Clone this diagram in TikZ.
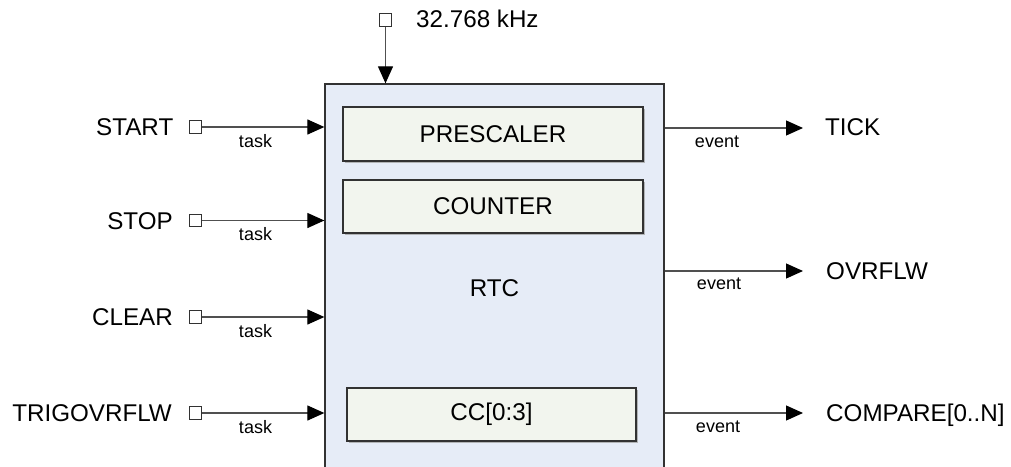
\documentclass[tikz,border=0pt]{standalone}
\usepackage{fontspec}
\setmainfont{Liberation Sans}
\usetikzlibrary{arrows.meta,shadows}
\definecolor{rtcfill}{RGB}{230,236,247}
\definecolor{subfill}{RGB}{242,245,238}
\definecolor{linegray}{RGB}{80,80,80}
\definecolor{boxline}{RGB}{50,50,50}
\tikzset{
  big/.style={font=\fontsize{24.2}{29}\selectfont, inner sep=0pt},
  small/.style={font=\fontsize{18}{22}\selectfont, inner sep=0pt},
  port/.style={draw=boxline, fill=white, line width=0.8pt, minimum size=12.5pt, inner sep=0pt},
  conn/.style={draw=linegray, line width=1.2pt, -{Triangle[length=17pt,width=15pt,color=black]}},
  mainbox/.style={draw=boxline, fill=rtcfill, line width=1.3pt, minimum width=339pt, minimum height=409pt, big},
  subbox/.style={draw=boxline, fill=subfill, line width=1.3pt, big,
    drop shadow={shadow xshift=1.5pt, shadow yshift=-1.5pt, fill=gray!70, opacity=0.8}},
}
\begin{document}
\begin{tikzpicture}[x=1pt, y=-1pt]
\useasboundingbox (0,0) rectangle (1011,466);
\clip (0,0) rectangle (1011,466);
% main block
\node[mainbox] (rtc) at (494.5,288.5) {RTC};
\node[subbox, minimum width=300pt, minimum height=54pt] (pre) at (493,134) {PRESCALER};
\node[subbox, minimum width=300pt, minimum height=53pt] (cnt) at (493,206.5) {COUNTER};
\node[subbox, minimum width=289pt, minimum height=53pt] (cc) at (491.5,414.5) {CC[0:3]};
% clock
\node[port] (clk) at (385.5,20) {};
\node[big, anchor=base west] (clklbl) at (416,27.5) {32.768 kHz};
\draw[conn] (clk.south) -- (clk |- rtc.north);
% tasks
\node[port] (pstart) at (195.5,127) {};
\node[port] (pstop) at (195.5,220.5) {};
\node[port] (pclear) at (195.5,317) {};
\node[port] (ptrig) at (195.5,413) {};
\node[big, anchor=base east] (lstart) at (173.5,135) {START};
\node[big, anchor=base east] (lstop) at (173,229) {STOP};
\node[big, anchor=base east] (lclear) at (173,325.5) {CLEAR};
\node[big, anchor=base east] (ltrig) at (172,421.5) {TRIGOVRFLW};
\foreach \p in {pstart,pstop,pclear,ptrig}{
  \draw[conn] (\p.east) -- (rtc.west |- \p);
}
\node[small, anchor=base] (tstart) at (255.5,147) {task};
\node[small, anchor=base] (tstop) at (255.5,240.5) {task};
\node[small, anchor=base] (tclear) at (255.5,337) {task};
\node[small, anchor=base] (ttrig) at (255.5,433) {task};
% events
\coordinate (etick) at (803,128);
\coordinate (eovr) at (803,271);
\coordinate (ecmp) at (803,413);
\foreach \e in {etick,eovr,ecmp}{
  \draw[conn] (rtc.east |- \e) -- (\e);
}
\node[small, anchor=base] (vtick) at (717,147) {event};
\node[small, anchor=base] (vovr) at (719,289) {event};
\node[small, anchor=base] (vcmp) at (718,432) {event};
\node[big, anchor=base west] (ltick) at (825,135) {TICK};
\node[big, anchor=base west] (lovr) at (826,279) {OVRFLW};
\node[big, anchor=base west] (lcmp) at (826,421.5) {COMPARE[0..N]};
\end{tikzpicture}
\end{document}
